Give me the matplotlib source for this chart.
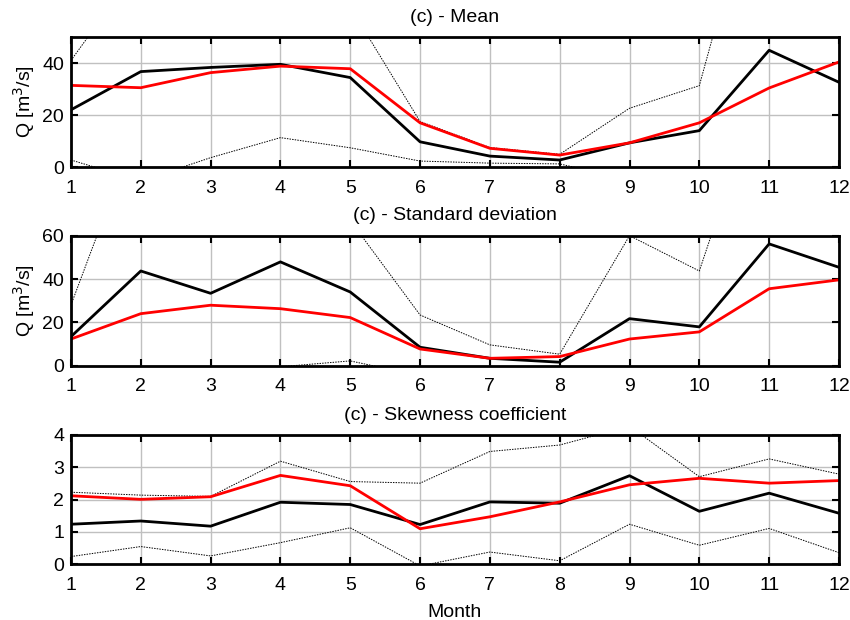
import matplotlib.pyplot as plt

plt.rcParams['font.family'] = ['Liberation Sans', 'DejaVu Sans']

months = list(range(1, 13))

# (c) - Mean
mean_obs = [22, 36.7, 38.3, 39.5, 34.4, 9.7, 4.2, 2.7, 9.3, 14, 44.9, 32.6]
mean_sim = [31.4, 30.5, 36.3, 38.8, 37.8, 17, 7.2, 4.6, 9.3, 17, 30.4, 40.4]
mean_hi = [41, 78, 85, 90, 61.5, 17.5, 7.5, 4.9, 22.6, 31.3, 129, 110]
mean_lo = [2.7, -5.4, 3.6, 11.3, 7.4, 2.3, 1.5, 1.2, -5, -3, -10, -8]

# (c) - Standard deviation
std_obs = [13.4, 43.7, 33.4, 47.9, 34, 8.5, 3.4, 1.6, 21.7, 17.9, 56.2, 45.4]
std_sim = [12.3, 24, 27.9, 26.3, 22.2, 7.7, 3.4, 4.2, 12.3, 15.6, 35.5, 39.6]
std_hi = [28, 114, 100, 90, 67, 23.4, 9.6, 5.3, 60, 43.7, 140, 120]
std_lo = [-8, -6, -4, -0.5, 2.2, -4.6, -6, -5, -8, -6, -10, -9]

# (c) - Skewness coefficient
skew_obs = [1.24, 1.34, 1.18, 1.92, 1.85, 1.23, 1.93, 1.89, 2.74, 1.64, 2.2, 1.58]
skew_sim = [2.12, 2.01, 2.09, 2.75, 2.43, 1.1, 1.47, 1.93, 2.46, 2.66, 2.51, 2.59]
skew_hi = [2.23, 2.14, 2.1, 3.19, 2.56, 2.51, 3.49, 3.69, 4.27, 2.71, 3.26, 2.79]
skew_lo = [0.24, 0.55, 0.26, 0.67, 1.13, -0.05, 0.38, 0.11, 1.24, 0.59, 1.11, 0.36]

panels = [
    ("(c) - Mean", mean_obs, mean_sim, mean_hi, mean_lo, (0, 50), [0, 20, 40], True),
    ("(c) - Standard deviation", std_obs, std_sim, std_hi, std_lo, (0, 60), [0, 20, 40, 60], True),
    ("(c) - Skewness coefficient", skew_obs, skew_sim, skew_hi, skew_lo, (0, 4), [0, 1, 2, 3, 4], False),
]

fig = plt.figure(figsize=(8.5, 6.2), dpi=100)
bottoms = [0.7306, 0.4102, 0.0898]
heights = [0.2097, 0.2097, 0.2086]

for (title, obs, sim, hi, lo, ylim, yticks, ylab), b, h in zip(panels, bottoms, heights):
    ax = fig.add_axes([0.0835, b, 0.9035, h])
    ax.plot(months, hi, color='black', lw=0.7, ls=(0, (1.5, 1.2)))
    ax.plot(months, lo, color='black', lw=0.7, ls=(0, (1.5, 1.2)))
    ax.plot(months, obs, color='black', lw=2)
    ax.plot(months, sim, color='red', lw=2)
    ax.set_xlim(1, 12)
    ax.set_ylim(*ylim)
    ax.set_xticks(months)
    ax.set_yticks(yticks)
    ax.grid(True, color='#c0c0c0', lw=1)
    ax.set_axisbelow(True)
    ax.tick_params(direction='in', top=True, right=True, length=5, width=1.5,
                   labelsize=14)
    ax.tick_params(axis='x', pad=9)
    ax.tick_params(axis='y', pad=5)
    for s in ax.spines.values():
        s.set_linewidth(2)
    ax.set_title(title, fontsize=14, pad=11)
    if ylab:
        ax.set_ylabel('Q [m$^3$/s]', fontsize=14, labelpad=4)

ax.set_xlabel('Month', fontsize=14, labelpad=7)

fig.savefig('out.png', dpi=100)
